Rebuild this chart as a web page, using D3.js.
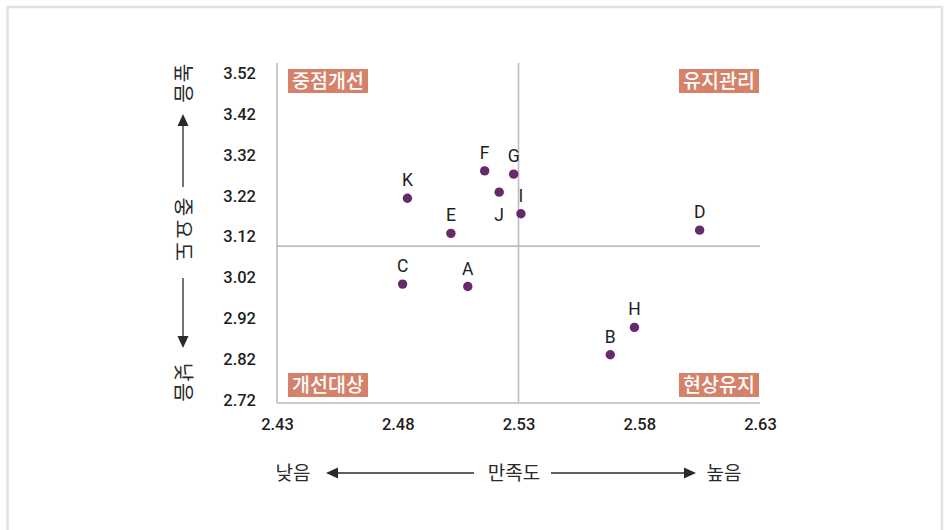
<!DOCTYPE html>
<html><head><meta charset="utf-8">
<script src="https://cdn.jsdelivr.net/npm/d3@7"></script>
<style>html,body{margin:0;padding:0;background:#fff;}svg{display:block;}</style>
</head><body>
<script>
// ---- data ----
const names  = ["A","B","C","D","E","F","G","H","I","J","K"];
const satisfaction = [2.509, 2.568, 2.482, 2.605, 2.502, 2.516, 2.528, 2.578, 2.531, 2.522, 2.484];
const importance   = [2.998, 2.831, 3.004, 3.136, 3.128, 3.281, 3.273, 2.898, 3.176, 3.229, 3.214];
const labelSide    = ["above","above","above","above","above","above","above","above","above","below","above"];
const xTicks = [2.43, 2.48, 2.53, 2.58, 2.63];
const yTicks = [3.52, 3.42, 3.32, 3.22, 3.12, 3.02, 2.92, 2.82, 2.72];
const meanX = 2.53, meanY = 3.097;
const quadrants = ["중점개선","유지관리","개선대상","현상유지"];

const W = 948, H = 530;
const svg = d3.select("body").append("svg").attr("width", W).attr("height", H);
svg.append("rect").attr("width", W).attr("height", H).attr("fill", "#fff");
svg.append("rect").attr("x", 7.5).attr("y", 7).attr("width", 934.5).attr("height", 600)
  .attr("fill", "none").attr("stroke", "#e2e2e2").attr("stroke-width", 2.5);

const x = d3.scaleLinear().domain([2.43, 2.63]).range([277, 760]);
const y = d3.scaleLinear().domain([2.713, 3.545]).range([403, 63]);

const gridC = "#bdbdbd";
// axis lines
svg.append("line").attr("x1", x(2.43)).attr("x2", x(2.43)).attr("y1", y(3.545)).attr("y2", y(2.713))
  .attr("stroke", gridC).attr("stroke-width", 1.6);
svg.append("line").attr("x1", x(2.43)).attr("x2", x(2.63)).attr("y1", y(2.713)).attr("y2", y(2.713))
  .attr("stroke", gridC).attr("stroke-width", 1.6);
// mean lines
svg.append("line").attr("x1", x(meanX)).attr("x2", x(meanX)).attr("y1", y(3.545)).attr("y2", y(2.713))
  .attr("stroke", gridC).attr("stroke-width", 1.6);
svg.append("line").attr("x1", x(2.43)).attr("x2", x(2.63)).attr("y1", y(meanY)).attr("y2", y(meanY))
  .attr("stroke", gridC).attr("stroke-width", 1.6);

const tickFont = "Roboto, 'Noto Sans', sans-serif";
const gy = svg.append("g").attr("transform", `translate(${x(2.43)},0)`)
  .call(d3.axisLeft(y).tickValues(yTicks).tickSize(0).tickPadding(21).tickFormat(d3.format(".2f")));
gy.select(".domain").remove();
gy.selectAll("text").attr("font-family", tickFont).attr("font-size", 16.5).attr("font-weight", 500).attr("fill", "#1e1e1e");

const gx = svg.append("g").attr("transform", `translate(0,${y(2.713)})`)
  .call(d3.axisBottom(x).tickValues(xTicks).tickSize(0).tickPadding(15).tickFormat(d3.format(".2f")));
gx.select(".domain").remove();
gx.selectAll("text").attr("font-family", tickFont).attr("font-size", 16.5).attr("font-weight", 500).attr("fill", "#1e1e1e");

// quadrant labels
const kr = "'Noto Sans CJK KR', 'Noto Sans', sans-serif";
const qPos = [
  {x: 288, y: 69, anchor: "start"},
  {x: 759, y: 69, anchor: "end"},
  {x: 288, y: 373, anchor: "start"},
  {x: 759, y: 373, anchor: "end"}
];
quadrants.forEach((t, i) => {
  const p = qPos[i], bw = 80, bh = 24;
  const bx = p.anchor === "start" ? p.x : p.x - bw;
  svg.append("rect").attr("x", bx).attr("y", p.y).attr("width", bw).attr("height", bh).attr("fill", "#d6826a");
  svg.append("text").attr("x", bx + bw / 2).attr("y", p.y + bh / 2).attr("dy", "0.36em")
    .attr("text-anchor", "middle").attr("font-family", kr).attr("font-size", 19.5).attr("font-weight", 500)
    .attr("fill", "#fff").text(t);
});

// points
const pts = names.map((n, i) => ({n, sx: satisfaction[i], iy: importance[i], side: labelSide[i]}));
svg.selectAll("circle.pt").data(pts).join("circle").attr("class", "pt")
  .attr("cx", d => x(d.sx)).attr("cy", d => y(d.iy)).attr("r", 4.7).attr("fill", "#66296a");
svg.selectAll("text.pl").data(pts).join("text").attr("class", "pl")
  .attr("x", d => x(d.sx)).attr("y", d => y(d.iy) + (d.side === "above" ? -12 : 28.5))
  .attr("text-anchor", "middle").attr("font-family", tickFont).attr("font-size", 17.5)
  .attr("fill", "#1e1e1e").text(d => d.n);

// y-axis title (vertical)
const titleC = "#2a2a2a";
function vtext(t, cx, cy, ls) {
  svg.append("text").attr("transform", `translate(${cx},${cy}) rotate(90)`)
    .attr("text-anchor", "middle").attr("dy", "0.36em").attr("font-family", kr)
    .attr("font-size", 20.5).attr("letter-spacing", ls).attr("fill", titleC).text(t);
}
vtext("높음", 183, 84, 1.5);
vtext("중요도", 183, 231, 3.5);
vtext("낮음", 183, 383, 1.5);
svg.append("line").attr("x1", 183).attr("x2", 183).attr("y1", 125).attr("y2", 187).attr("stroke", titleC).attr("stroke-width", 1.3);
svg.append("path").attr("d", "M183,114 L188.5,126 L177.5,126 Z").attr("fill", titleC);
svg.append("line").attr("x1", 183).attr("x2", 183).attr("y1", 278).attr("y2", 337).attr("stroke", titleC).attr("stroke-width", 1.3);
svg.append("path").attr("d", "M183,348 L188.5,336 L177.5,336 Z").attr("fill", titleC);

// x-axis title
function htext(t, cx, cy) {
  svg.append("text").attr("x", cx).attr("y", cy).attr("dy", "0.36em").attr("text-anchor", "middle")
    .attr("font-family", kr).attr("font-size", 19).attr("fill", titleC).text(t);
}
htext("낮음", 293, 473);
htext("만족도", 514, 473);
htext("높음", 724, 473);
svg.append("line").attr("x1", 337).attr("x2", 474).attr("y1", 473).attr("y2", 473).attr("stroke", titleC).attr("stroke-width", 1.3);
svg.append("path").attr("d", "M326,473 L338,467.5 L338,478.5 Z").attr("fill", titleC);
svg.append("line").attr("x1", 551).attr("x2", 684).attr("y1", 473).attr("y2", 473).attr("stroke", titleC).attr("stroke-width", 1.3);
svg.append("path").attr("d", "M696,473 L684,467.5 L684,478.5 Z").attr("fill", titleC);
</script>
</body></html>
